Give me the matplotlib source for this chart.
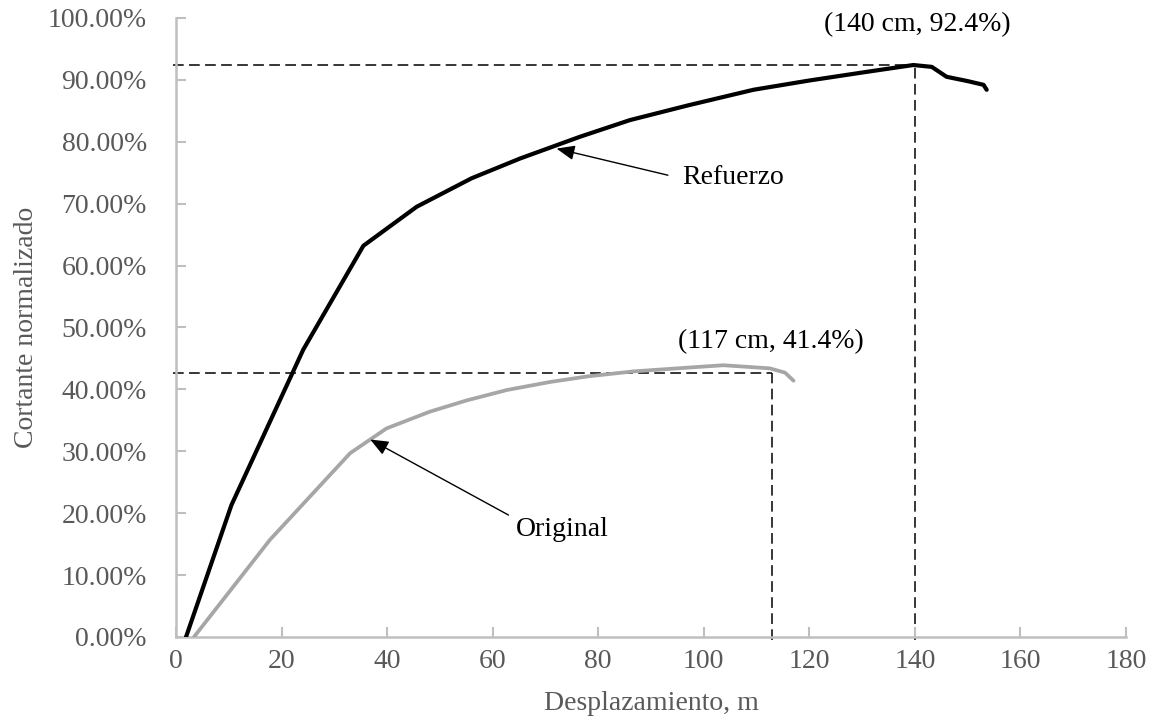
import matplotlib

matplotlib.use("Agg")
import matplotlib.pyplot as plt
from matplotlib.ticker import FuncFormatter, MultipleLocator

# Curva con refuerzo (desplazamiento, cortante normalizado)
REFUERZO_X = [1.9, 10.5, 24.1, 35.5, 45.6, 56.0, 65.2, 76.5, 86.0, 97.1,
              109.4, 120.0, 130.9, 139.7, 143.2, 146.0, 150.0, 153.0, 153.6]
REFUERZO_Y = [0.0, 0.213, 0.464, 0.632, 0.695, 0.741, 0.773, 0.808, 0.835, 0.859,
              0.884, 0.899, 0.913, 0.924, 0.921, 0.905, 0.898, 0.892, 0.884]

# Curva original
ORIGINAL_X = [3.4, 17.8, 33.0, 39.9, 48.1, 55.0, 62.7, 70.9, 78.0, 86.6,
              95.0, 103.7, 112.5, 115.4, 117.0]
ORIGINAL_Y = [0.0, 0.157, 0.297, 0.337, 0.364, 0.382, 0.399, 0.412, 0.421, 0.429,
              0.434, 0.439, 0.434, 0.427, 0.414]

REFUERZO_PEAK = (140.0, 0.924)
ORIGINAL_PEAK = (113.0, 0.427)

X_TICKS = list(range(0, 181, 20))
FONT = "Liberation Serif"
FONT_SIZE = 20
GRAY_TEXT = "#595959"
GRAY_AXIS = "#bfbfbf"


def main() -> None:
    plt.rcParams["font.family"] = FONT
    fig = plt.figure(figsize=(11.51, 7.25), dpi=100)
    ax = fig.add_axes([0.1529, 0.1214, 0.8254, 0.8538])

    # guide lines to peaks
    dash = dict(color="black", linewidth=1.1, dashes=(7, 3.5), clip_on=False, zorder=1)
    for px, py in (REFUERZO_PEAK, ORIGINAL_PEAK):
        ax.plot([-0.5, px], [py, py], **dash)
        ax.plot([px, px], [-0.005, py], **dash)

    ax.plot(REFUERZO_X, REFUERZO_Y, color="black", linewidth=3.0,
            solid_joinstyle="round", solid_capstyle="round", zorder=3)
    ax.plot(ORIGINAL_X, ORIGINAL_Y, color="#a6a6a6", linewidth=2.7,
            solid_joinstyle="round", solid_capstyle="round", zorder=3)

    ax.text(140.4, 0.989, "(140 cm, 92.4%)", ha="center", va="center",
            fontsize=FONT_SIZE)
    ax.text(112.7, 0.477, "(117 cm, 41.4%)", ha="center", va="center",
            fontsize=FONT_SIZE)

    arrow = dict(arrowstyle="-|>,head_length=1.1,head_width=0.45", color="black",
                 linewidth=1.0, shrinkA=0, shrinkB=0)
    ax.annotate("", xy=(72.1, 0.789), xytext=(93.2, 0.746), arrowprops=arrow)
    ax.text(95.9, 0.743, "Refuerzo", ha="left", va="center", fontsize=FONT_SIZE)
    ax.annotate("", xy=(36.8, 0.319), xytext=(63.0, 0.197), arrowprops=arrow)
    ax.text(64.4, 0.174, "Original", ha="left", va="center", fontsize=FONT_SIZE)

    ax.set_xlim(0, 180)
    ax.set_ylim(0, 1.0)
    ax.set_xticks(X_TICKS)
    ax.yaxis.set_major_locator(MultipleLocator(0.1))
    ax.yaxis.set_major_formatter(FuncFormatter(lambda v, _: f"{v * 100:.2f}%"))

    for side in ("top", "right"):
        ax.spines[side].set_visible(False)
    for side in ("left", "bottom"):
        ax.spines[side].set_color(GRAY_AXIS)
        ax.spines[side].set_linewidth(1.8)
    ax.tick_params(direction="in", length=7, width=1.5, color=GRAY_AXIS,
                   labelcolor=GRAY_TEXT, labelsize=FONT_SIZE)
    ax.tick_params(axis="y", pad=21)
    ax.tick_params(axis="x", pad=9)

    ax.set_xlabel("Desplazamiento, m", fontsize=FONT_SIZE, color=GRAY_TEXT,
                  labelpad=12)
    ax.set_ylabel("Cortante normalizado", fontsize=FONT_SIZE, color=GRAY_TEXT,
                  labelpad=6)

    fig.savefig("out.png", dpi=100)
    plt.close(fig)


if __name__ == "__main__":
    main()
